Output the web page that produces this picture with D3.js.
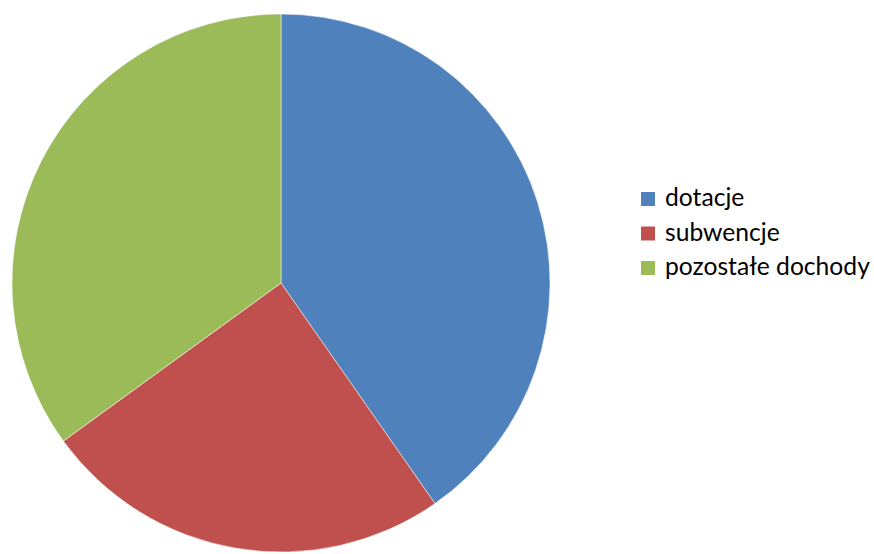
<!DOCTYPE html>
<html>
<head>
<meta charset="utf-8">
<script src="https://cdn.jsdelivr.net/npm/d3@7"></script>
<style>
  body { margin: 0; background: #fff; }
  svg { display: block; }
</style>
</head>
<body>
<div id="chart"></div>
<script>
// slices, clockwise from 12 o'clock
const categories = ["dotacje", "subwencje", "pozostałe dochody"]
const values = [40.3, 24.7, 35.0]
const colors = ["#4F81BD", "#C0504D", "#9BBB59"]

const width = 874, height = 554
const cx = 281, cy = 283, radius = 269

const svg = d3.select("#chart").append("svg")
    .attr("width", width)
    .attr("height", height)

const pie = d3.pie().sort(null).value(d => d)
const arc = d3.arc().innerRadius(0).outerRadius(radius)

const color = d3.scaleOrdinal().domain(categories).range(colors)

const g = svg.append("g")
    .attr("transform", `translate(${cx},${cy})`)

g.selectAll("path")
  .data(pie(values))
  .join("path")
    .attr("d", arc)
    .attr("fill", (d, i) => color(categories[i]))
    .attr("stroke", "#fff")
    .attr("stroke-width", 0.5)

// legend
const legend = svg.append("g")
    .attr("transform", "translate(641,192)")

const rowY = d3.scalePoint().domain(categories).range([0, 69])

const items = legend.selectAll("g")
  .data(categories)
  .join("g")
    .attr("transform", d => `translate(0,${rowY(d)})`)

items.append("rect")
    .attr("width", 14)
    .attr("height", 14)
    .attr("fill", d => color(d))

const labels = items.append("text")
    .attr("x", 24)
    .attr("y", 14)
    .attr("font-family", "Lato, 'Open Sans', sans-serif")
    .attr("font-size", 21)
    .attr("fill", "#000")
    .text(d => d)

// fit the longest label to the width seen in the reference
const longest = labels.filter(d => d === "pozostałe dochody").node()
const w = longest.getComputedTextLength()
const fs = 21 * 205 / w
labels.attr("font-size", fs)
</script>
</body>
</html>
